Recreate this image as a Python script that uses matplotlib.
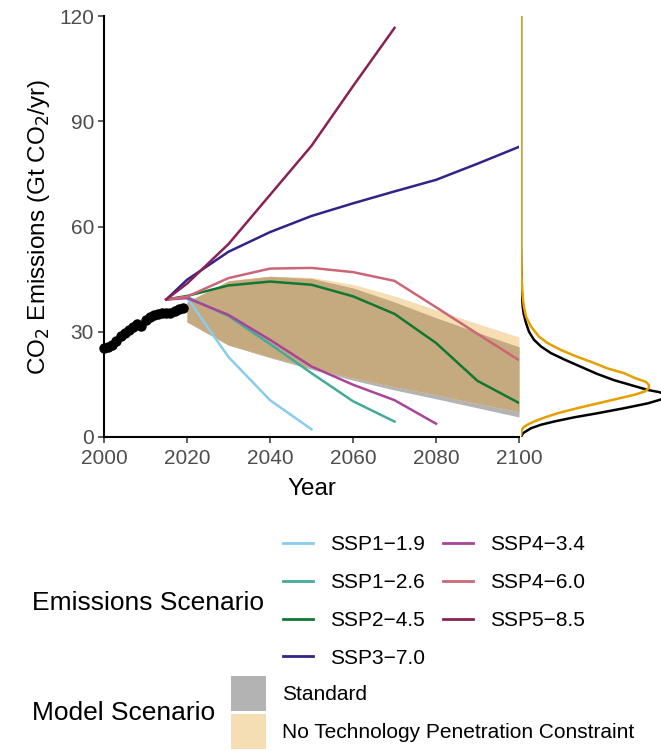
import numpy as np
import matplotlib
matplotlib.use('Agg')
import matplotlib.pyplot as plt
from matplotlib.lines import Line2D
from matplotlib.patches import Patch

plt.rcParams['font.family'] = ['Liberation Sans', 'DejaVu Sans']

# historical emissions (Gt CO2/yr)
hist_years = np.arange(2000, 2020)
hist_co2 = [25.5, 25.7, 26.3, 27.5, 28.7, 29.6, 30.6, 31.4, 32.1, 31.6,
            33.3, 34.3, 34.8, 35.2, 35.3, 35.3, 35.4, 35.9, 36.6, 36.7]

# SSP scenarios
ssp_years = [2015, 2020, 2030, 2040, 2050, 2060, 2070, 2080, 2090, 2100]
ssp_names = ['SSP1−1.9', 'SSP1−2.6', 'SSP2−4.5', 'SSP3−7.0',
             'SSP4−3.4', 'SSP4−6.0', 'SSP5−8.5']
ssp_colors = ['#88CCEE', '#44AA99', '#117733', '#332288',
              '#AA4499', '#CC6677', '#882255']
ssp119 = [39.2, 39.7, 22.8, 10.5, 2.2]
ssp126 = [39.2, 39.9, 34.5, 26.5, 18.2, 10.2, 4.4]
ssp245 = [39.2, 40.2, 43.2, 44.3, 43.4, 40.1, 35.1, 26.8, 16.0, 9.7]
ssp370 = [39.2, 44.8, 52.8, 58.4, 63.0, 66.6, 70.0, 73.3, 77.9, 82.7]
ssp434 = [39.2, 39.6, 34.8, 27.7, 20.1, 14.9, 10.5, 3.8]
ssp460 = [39.2, 40.0, 45.3, 48.0, 48.2, 47.0, 44.5, 37.0, 29.4, 21.9]
ssp585 = [39.2, 43.7, 55.0, 69.0, 83.0, 100.0, 116.6]
ssp_values = [ssp119, ssp126, ssp245, ssp370, ssp434, ssp460, ssp585]

# model ranges
band_years = [2020, 2030, 2040, 2050, 2060, 2070, 2080, 2090, 2100]
std_low = [32.8, 26.2, 22.6, 19.3, 16.2, 13.4, 10.9, 8.3, 5.7]
std_high = [38.5, 44.5, 45.8, 45.2, 42.5, 38.5, 34.0, 29.8, 25.7]
notech_low = [32.8, 26.2, 22.8, 19.7, 16.8, 14.3, 12.0, 9.5, 7.2]
notech_high = [38.5, 44.6, 45.8, 45.5, 43.5, 40.2, 36.3, 32.3, 28.5]

# 2100 densities (arbitrary units)
dens_std_y = [0.0, 1.1, 2.5, 3.5, 4.4, 5.6, 6.8, 8.2, 9.6, 10.8, 11.8, 12.8, 13.4,
              14.8, 16.2, 18.0, 20.0, 22.0, 23.9, 25.8, 27.7, 30.0, 32.5, 35.0,
              37.1, 41.9, 48.0, 55.0, 120.0]
dens_std = [0, 2, 10, 20, 33, 53, 77, 103, 127, 141, 148, 138, 127,
            110, 93, 76, 60, 44, 30, 20, 13, 8, 5, 2.8,
            1.7, 0.7, 0.2, 0, 0]
dens_nt_y = [0.5, 2.0, 2.9, 3.6, 4.4, 5.6, 6.8, 8.2, 9.6, 10.8, 12.0, 13.0, 14.0,
             14.8, 15.7, 16.8, 18.2, 19.6, 21.1, 23.0, 24.8, 26.7, 28.6, 31.5,
             34.3, 37.0, 40.0, 46.7, 55.0, 120.0]
dens_nt = [0, 0.7, 3, 7, 13, 24, 37, 56, 77, 95, 113, 124, 128,
           128, 125, 114, 103, 86, 73, 55, 40, 27, 18, 10,
           5, 3, 1.7, 0.3, 0, 0]

grey_col = '#b3b3b3'
wheat_col = '#f5deb3'
tan_col = '#c4aa7e'

fig = plt.figure(figsize=(6.61, 7.51), dpi=100)
bottom = 314 / 751
height = 421 / 751
ax = fig.add_axes([104 / 661, bottom, 415 / 661, height])

ax.fill_between(band_years, std_low, std_high, color=grey_col, lw=0)
ax.fill_between(band_years, notech_low, notech_high, color=wheat_col, lw=0)
ax.fill_between(band_years, np.maximum(std_low, notech_low),
                np.minimum(std_high, notech_high), color=tan_col, lw=0)

for vals, col in zip(ssp_values, ssp_colors):
    ax.plot(ssp_years[:len(vals)], vals, color=col, lw=1.8)

ax.plot(hist_years, hist_co2, 'o', color='black', ms=6.5, zorder=5, clip_on=False)

ax.set_xlim(2000, 2100)
ax.set_ylim(0, 120)
ax.set_xticks([2000, 2020, 2040, 2060, 2080, 2100])
ax.set_yticks([0, 30, 60, 90, 120])
for s in ['top', 'right']:
    ax.spines[s].set_visible(False)
for s in ['left', 'bottom']:
    ax.spines[s].set_linewidth(1.5)
ax.tick_params(length=4.2, width=1.1, color='#333333', labelcolor='#4d4d4d',
               labelsize=15)
ax.tick_params(axis='x', pad=4.5)
ax.tick_params(axis='y', pad=3)
ax.set_xlabel('Year', fontsize=17.5)
ax.set_ylabel(r'CO$_2$ Emissions (Gt CO$_2$/yr)', fontsize=17.5)
ax.xaxis.set_label_coords(0.5, -0.098)
ax.yaxis.set_label_coords(-0.125, 0.5)

# density panel
ax2 = fig.add_axes([521 / 661, bottom, 140 / 661, height])
ax2.plot(dens_std, dens_std_y, color='black', lw=1.8)
ax2.plot(dens_nt, dens_nt_y, color='#E69F00', lw=1.8)
ax2.set_xlim(0, 140)
ax2.set_ylim(0, 120)
ax2.axis('off')

# legends
ssp_handles = [Line2D([], [], color=c, lw=2) for c in ssp_colors]
fig.legend(ssp_handles, ssp_names, loc='upper left', ncol=2,
           bbox_to_anchor=(283 / 661, 1 - 535.5 / 751), frameon=False,
           fontsize=15, handlelength=1.44, handletextpad=0.82,
           columnspacing=0.87, labelspacing=0.9, borderpad=0, borderaxespad=0)
fig.text(32 / 661, 1 - 603 / 751, 'Emissions Scenario', fontsize=19,
         ha='left', va='center')

model_handles = [Patch(facecolor=grey_col, edgecolor='none'),
                 Patch(facecolor=wheat_col, edgecolor='none')]
fig.legend(model_handles, ['Standard', 'No Technology Penetration Constraint'],
           loc='upper left', bbox_to_anchor=(231 / 661, 1 - 676 / 751),
           frameon=False, fontsize=15, handlelength=1.68, handleheight=2.21,
           handletextpad=0.77, labelspacing=0.14, borderpad=0, borderaxespad=0)
fig.text(32 / 661, 1 - 713 / 751, 'Model Scenario', fontsize=19,
         ha='left', va='center')

plt.savefig('out.png', dpi=100)
